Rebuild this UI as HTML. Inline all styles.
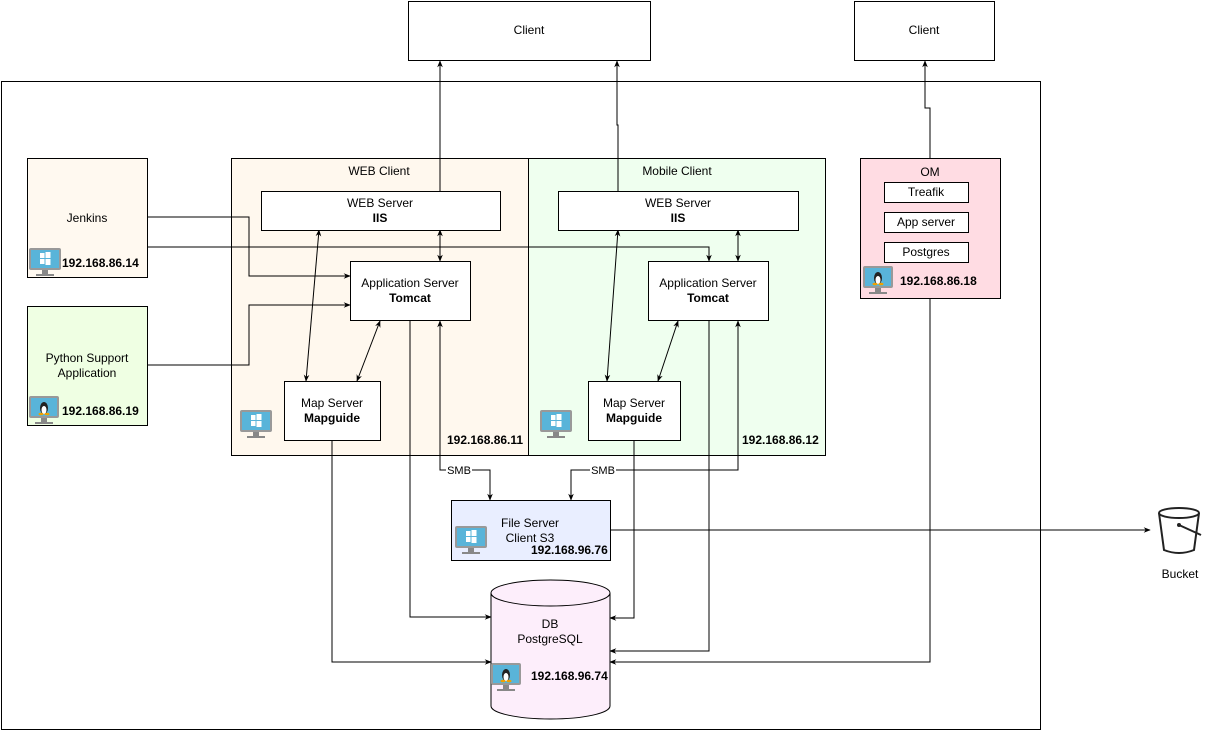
<!DOCTYPE html>
<html><head><meta charset="utf-8"><style>
html,body{margin:0;padding:0;background:#fff;}
svg{display:block;font-family:"Liberation Sans",Arial,sans-serif;font-size:12px;}
.b{font-weight:bold;}
</style></head><body>
<svg width="1211" height="731" viewBox="0 0 1211 731" xmlns="http://www.w3.org/2000/svg">
<defs>
<marker id="a" viewBox="0 0 10 10" refX="9" refY="5" markerWidth="7" markerHeight="7" orient="auto-start-reverse"><path d="M0,1 L10,5 L0,9 L3,5 Z" fill="#000"/></marker>
<g id="win"><rect x="0" y="0" width="32" height="22" rx="2" fill="#999"/><rect x="2" y="2" width="28" height="18" fill="#59b4d9"/><rect x="11" y="5" width="4.5" height="5" fill="#fff"/><rect x="16.5" y="4" width="5" height="6" fill="#fff"/><rect x="11" y="11" width="4.5" height="5" fill="#fff"/><rect x="16.5" y="11" width="5" height="6" fill="#fff"/><rect x="13" y="22" width="6" height="4" fill="#888"/><rect x="7" y="26" width="18" height="2" fill="#888"/></g>
<g id="lin"><rect x="0" y="0" width="30" height="22" rx="2" fill="#999"/><rect x="2" y="2" width="26" height="18" fill="#59b4d9"/><ellipse cx="15" cy="12" rx="4" ry="6" fill="#222"/><ellipse cx="15" cy="14" rx="2.5" ry="4" fill="#fff"/><ellipse cx="12" cy="18" rx="2.5" ry="1.3" fill="#f0a000"/><ellipse cx="18" cy="18" rx="2.5" ry="1.3" fill="#f0a000"/><rect x="12" y="22" width="6" height="4" fill="#888"/><rect x="6" y="26" width="18" height="2" fill="#888"/></g>
</defs>
<g stroke="#000" fill="none">
<rect x="1.5" y="81.5" width="1039" height="648"/>
<rect x="408.5" y="1.5" width="242" height="59" fill="#fff"/>
<rect x="854.5" y="1.5" width="140" height="59" fill="#fff"/>
<rect x="27.5" y="158.5" width="120" height="119" fill="#fff9f0"/>
<rect x="27.5" y="306.5" width="120" height="119" fill="#efffe3"/>
<rect x="231.5" y="158.5" width="297" height="297" fill="#fff8ee"/>
<rect x="528.5" y="158.5" width="297" height="297" fill="#efffef"/>
<rect x="860.5" y="158.5" width="140" height="140" fill="#ffdce3"/>
<rect x="884.5" y="182.5" width="84" height="20" fill="#fff"/>
<rect x="884.5" y="212.5" width="84" height="20" fill="#fff"/>
<rect x="884.5" y="242.5" width="84" height="20" fill="#fff"/>
<rect x="451.5" y="500.5" width="159" height="60" fill="#e9eeff"/>
<path d="M491,593 L491,706 A59.5,13 0 0 0 610,706 L610,593" fill="#fdeefb"/>
<ellipse cx="550.5" cy="593" rx="59.5" ry="13" fill="#fdeefb"/>
</g>
<g stroke="#000" fill="none" stroke-width="1">
<path d="M440,191 V61" marker-end="url(#a)"/>
<path d="M618,191 V125 H617 V61" marker-end="url(#a)"/>
<path d="M930,158 V108 H925 V61" marker-end="url(#a)"/>
<path d="M147,217 H249 V276 H350" marker-end="url(#a)"/>
<path d="M147,247 H709 V261" marker-end="url(#a)"/>
<path d="M147,365 H249 V305 H350" marker-end="url(#a)"/>
<path d="M319,230 L306,381" marker-start="url(#a)" marker-end="url(#a)"/>
<path d="M440,230 V261" marker-start="url(#a)" marker-end="url(#a)"/>
<path d="M380,321 L357,381" marker-start="url(#a)" marker-end="url(#a)"/>
<path d="M618,230 L607,381" marker-start="url(#a)" marker-end="url(#a)"/>
<path d="M738,230 V261" marker-start="url(#a)" marker-end="url(#a)"/>
<path d="M678,321 L658,381" marker-start="url(#a)" marker-end="url(#a)"/>
<path d="M440,321 V470 H490 V500" marker-start="url(#a)" marker-end="url(#a)"/>
<path d="M738,321 V470 H571 V500" marker-start="url(#a)" marker-end="url(#a)"/>
<path d="M410,321 V617 H491" marker-end="url(#a)"/>
<path d="M332,440 V662 H491" marker-end="url(#a)"/>
<path d="M634,440 V618 H610" marker-end="url(#a)"/>
<path d="M709,321 V651 H610" marker-end="url(#a)"/>
<path d="M930,298 V662 H610" marker-end="url(#a)"/>
<path d="M610,530 H1150" marker-end="url(#a)"/>
</g>
<g stroke="#000" fill="#fff">
<rect x="261.5" y="191.5" width="239" height="39"/>
<rect x="350.5" y="261.5" width="120" height="59"/>
<rect x="284.5" y="381.5" width="96" height="59"/>
<rect x="558.5" y="191.5" width="240" height="39"/>
<rect x="648.5" y="261.5" width="120" height="59"/>
<rect x="588.5" y="381.5" width="92" height="59"/>
</g>
<rect x="446" y="464" width="26" height="12" fill="#fff"/>
<rect x="590" y="464" width="26" height="12" fill="#fff"/>
<text x="459" y="474" text-anchor="middle" font-size="11">SMB</text>
<text x="603" y="474" text-anchor="middle" font-size="11">SMB</text>
<g text-anchor="middle">
<text x="529" y="34">Client</text>
<text x="924" y="34">Client</text>
<text x="87" y="222">Jenkins</text>
<text x="87" y="362">Python Support</text>
<text x="87" y="377">Application</text>
<text x="379" y="175">WEB Client</text>
<text x="677" y="175">Mobile Client</text>
<text x="380" y="207">WEB Server</text>
<text x="380" y="222" class="b">IIS</text>
<text x="678" y="207">WEB Server</text>
<text x="678" y="222" class="b">IIS</text>
<text x="410" y="287">Application Server</text>
<text x="410" y="302" class="b">Tomcat</text>
<text x="708" y="287">Application Server</text>
<text x="708" y="302" class="b">Tomcat</text>
<text x="332" y="407">Map Server</text>
<text x="332" y="422" class="b">Mapguide</text>
<text x="634" y="407">Map Server</text>
<text x="634" y="422" class="b">Mapguide</text>
<text x="930" y="176">OM</text>
<text x="926" y="196">Treafik</text>
<text x="926" y="226">App server</text>
<text x="926" y="256">Postgres</text>
<text x="530" y="527">File Server</text>
<text x="530" y="542">Client S3</text>
<text x="550" y="628">DB</text>
<text x="550" y="643">PostgreSQL</text>
<text x="1180" y="578">Bucket</text>
</g>
<g class="b">
<text x="62" y="267">192.168.86.14</text>
<text x="62" y="415">192.168.86.19</text>
<text x="447" y="444">192.168.86.11</text>
<text x="742" y="444">192.168.86.12</text>
<text x="900" y="285">192.168.86.18</text>
<text x="531" y="554">192.168.96.76</text>
<text x="531" y="680">192.168.96.74</text>
</g>
<use href="#win" x="29" y="248"/>
<use href="#lin" x="29" y="396"/>
<use href="#win" x="240" y="410"/>
<use href="#win" x="540" y="410"/>
<use href="#lin" x="863" y="266"/>
<use href="#win" x="455" y="526"/>
<use href="#lin" x="491" y="663"/>
<g stroke="#222" stroke-width="2" fill="none">
<ellipse cx="1179" cy="513" rx="20" ry="5"/>
<path d="M1159,513 L1164,550 Q1179,556 1194,550 L1199,513"/>
<path d="M1179,525 L1201,535"/>
</g>
<circle cx="1179" cy="525" r="2" fill="#222"/>
</svg>
</body></html>
